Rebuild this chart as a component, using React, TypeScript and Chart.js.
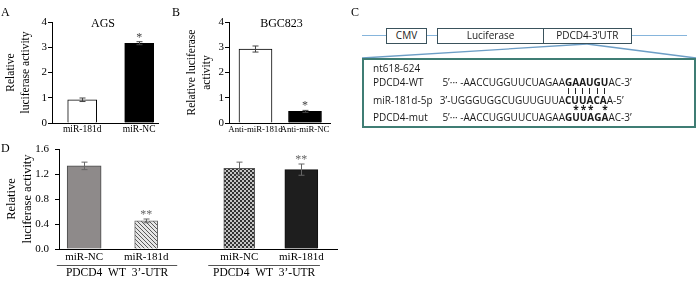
import React, { useEffect, useRef } from 'react';
import { Chart, registerables } from 'chart.js';

Chart.register(...registerables);

const SERIF = '"Liberation Serif", "Times New Roman", serif';
const SANS = '"Open Sans", "Noto Sans", sans-serif';

// ---------- Panel A (AGS) ----------
const agsCategories = ['miR-181d', 'miR-NC'];
const agsValues = [0.92, 3.16];
const agsErrors = [0.07, 0.06];
const agsMarks = ['', '*'];

// ---------- Panel B (BGC823) ----------
const bgcCategories = ['Anti-miR-181d', 'Anti-miR-NC'];
const bgcValues = [2.93, 0.46];
const bgcErrors = [0.12, 0.04];
const bgcMarks = ['', '*'];

const abTicks = [0, 1, 2, 3, 4];

// ---------- Panel D ----------
const dCategories = ['miR-NC', 'miR-181d', 'miR-NC', 'miR-181d'];
const dSlots = [0, 2, 5, 7];
const dValues = [1.33, 0.45, 1.29, 1.27];
const dErrors = [0.06, 0.03, 0.1, 0.09];
const dMarks = ['', '**', '', '**'];
const dGroupLabels = ['PDCD4  WT  3’-UTR', 'PDCD4  WT  3’-UTR'];
const dGroupSpans = [[-0.88, 3.0], [4.0, 7.6]];
const dTicks = [0, 0.4, 0.8, 1.2, 1.6];

// ---------- Panel C (construct) ----------
const constructBoxes = ['CMV', 'Luciferase', 'PDCD4-3’UTR'];
const siteLabel = 'nt618-624';
const seqNames = ['PDCD4-WT', 'miR-181d-5p', 'PDCD4-mut'];
const seqPre = ['5’··· -AACCUGGUUCUAGAA', '3’-UGGGUGGCUGUUGUUA', '5’··· -AACCUGGUUCUAGAA'];
const seqCore = ['GAAUGU', 'CUUACA', 'GUUAGA'];
const seqPost = ['AC-3’', 'A-5’', 'AC-3’'];
const mutatedPositions = [1, 2, 3, 5];

const errorBarPlugin = {
  id: 'errorBars',
  afterDatasetsDraw(chart: any) {
    const { ctx } = chart;
    const ys = chart.scales.y;
    chart.data.datasets.forEach((ds: any, di: number) => {
      const meta = chart.getDatasetMeta(di);
      meta.data.forEach((bar: any, i: number) => {
        const pt = ds.data[i];
        if (!pt || !ds.errors) return;
        const err = ds.errors[i];
        const yTop = ys.getPixelForValue(pt.y + err);
        const yBot = ys.getPixelForValue(pt.y - err);
        const x = Math.round(bar.x) + 0.5;
        const cap = ds.capHalf ?? 3;
        ctx.save();
        ctx.strokeStyle = ds.errorColor || '#444';
        ctx.lineWidth = 1;
        ctx.beginPath();
        ctx.moveTo(x, yTop);
        ctx.lineTo(x, yBot);
        ctx.moveTo(x - cap, yTop);
        ctx.lineTo(x + cap, yTop);
        ctx.moveTo(x - cap, yBot);
        ctx.lineTo(x + cap, yBot);
        ctx.stroke();
        const mark = ds.marks ? ds.marks[i] : '';
        if (mark) {
          ctx.fillStyle = ds.errorColor || '#444';
          ctx.font = `12px ${SERIF}`;
          ctx.textAlign = 'center';
          ctx.textBaseline = 'alphabetic';
          ctx.fillText(mark, bar.x, yTop - 1);
        }
        ctx.restore();
      });
    });
  },
};

const panelTextPlugin = {
  id: 'panelText',
  afterDraw(chart: any, _args: any, opts: any) {
    const { ctx, chartArea } = chart;
    ctx.save();
    ctx.fillStyle = '#000';
    if (opts && opts.title) {
      ctx.font = `12px ${SERIF}`;
      ctx.textAlign = 'center';
      ctx.textBaseline = 'middle';
      ctx.fillText(opts.title, (chartArea.left + chartArea.right) / 2 + (opts.titleDx || 0), chartArea.top + 2);
    }
    if (opts && opts.groups) {
      const xs = chart.scales.x;
      opts.groups.forEach((g: any) => {
        const x1 = xs.getPixelForValue(g.span[0]);
        const x2 = xs.getPixelForValue(g.span[1]);
        const yLine = chartArea.bottom + 16.5;
        ctx.strokeStyle = '#555';
        ctx.lineWidth = 1;
        ctx.beginPath();
        ctx.moveTo(x1, yLine);
        ctx.lineTo(x2, yLine);
        ctx.stroke();
        ctx.font = `11.5px ${SERIF}`;
        ctx.textAlign = 'center';
        ctx.textBaseline = 'middle';
        ctx.fillText(g.label, (x1 + x2) / 2, chartArea.bottom + 24);
      });
    }
    ctx.restore();
  },
};

function xAxis(slots: number[], labels: string[], min: number, max: number, size: number, height: number, pad: number) {
  return {
    type: 'linear',
    min,
    max,
    offset: false,
    grid: { display: false, drawTicks: false, tickLength: 0 },
    border: { display: true, color: '#000', width: 1 },
    afterBuildTicks: (axis: any) => {
      axis.ticks = slots.map((v) => ({ value: v }));
    },
    ticks: {
      autoSkip: false,
      maxRotation: 0,
      minRotation: 0,
      padding: pad,
      color: '#000',
      font: { family: SERIF, size },
      callback: (value: number) => {
        const i = slots.indexOf(value);
        return i >= 0 ? labels[i] : '';
      },
    },
    afterFit: (s: any) => {
      s.height = height;
      s.paddingLeft = 0;
      s.paddingRight = 0;
    },
  };
}

function yAxis(ticks: number[], width: number, title: string[], titlePad: number, labelPad: number, fmt: (v: number) => string, titleSize: number) {
  return {
    min: ticks[0],
    max: ticks[ticks.length - 1],
    afterBuildTicks: (axis: any) => {
      axis.ticks = ticks.map((v) => ({ value: v }));
    },
    grid: { display: true, drawOnChartArea: false, drawTicks: true, tickLength: 4, color: '#000', lineWidth: 1 },
    border: { display: true, color: '#000', width: 1 },
    ticks: { padding: labelPad, color: '#000', font: { family: SERIF, size: 11 }, callback: (v: number) => fmt(v) },
    title: {
      display: true,
      text: title,
      color: '#000',
      font: { family: SERIF, size: titleSize, lineHeight: 1.25 },
      padding: { top: titlePad, bottom: 0 },
    },
    afterFit: (s: any) => {
      s.width = width;
      s.paddingTop = 0;
      s.paddingBottom = 0;
    },
  };
}

function makeHatch(): CanvasPattern | string {
  const c = document.createElement('canvas');
  c.width = 4;
  c.height = 4;
  const g = c.getContext('2d');
  if (!g) return '#bbb';
  g.fillStyle = '#e6e6e6';
  g.fillRect(0, 0, 4, 4);
  g.strokeStyle = '#5a5a5a';
  g.lineWidth = 1;
  g.beginPath();
  g.moveTo(-1, -1);
  g.lineTo(5, 5);
  g.moveTo(-1, 3);
  g.lineTo(1, 5);
  g.moveTo(3, -1);
  g.lineTo(5, 1);
  g.stroke();
  return g.createPattern(c, 'repeat') || '#bbb';
}

function makeChecker(): CanvasPattern | string {
  const c = document.createElement('canvas');
  c.width = 4;
  c.height = 4;
  const g = c.getContext('2d');
  if (!g) return '#777';
  g.fillStyle = '#c4c4c4';
  g.fillRect(0, 0, 4, 4);
  g.fillStyle = '#333';
  g.fillRect(0, 0, 2, 2);
  g.fillRect(2, 2, 2, 2);
  return g.createPattern(c, 'repeat') || '#777';
}

function configA() {
  return {
    type: 'bar',
    data: {
      datasets: [
        {
          data: agsCategories.map((_, i) => ({ x: i, y: agsValues[i] })),
          backgroundColor: ['#ffffff', '#000000'],
          borderColor: '#000',
          borderWidth: 1,
          barThickness: 29,
          errors: agsErrors,
          marks: agsMarks,
          errorColor: '#444',
        },
      ],
    },
    options: {
      responsive: false,
      animation: false,
      layout: { padding: { left: 0, top: 22, right: 12, bottom: 0 } },
      plugins: { legend: { display: false }, tooltip: { enabled: false }, panelText: { title: 'AGS', titleDx: -2 } },
      scales: {
        x: xAxis([0, 1], agsCategories, -0.53, 1.33, 9.5, 17, 1),
        y: yAxis(abTicks, 52, ['Relative', 'luciferase activity'], 4, 1, (v) => String(v), 11.5),
      },
    },
    plugins: [errorBarPlugin, panelTextPlugin],
  };
}

function configB() {
  return {
    type: 'bar',
    data: {
      datasets: [
        {
          data: bgcCategories.map((_, i) => ({ x: i, y: bgcValues[i] })),
          backgroundColor: ['#ffffff', '#000000'],
          borderColor: '#000',
          borderWidth: 1,
          barThickness: 33,
          errors: bgcErrors,
          marks: bgcMarks,
          errorColor: '#444',
        },
      ],
    },
    options: {
      responsive: false,
      animation: false,
      layout: { padding: { left: 0, top: 22, right: 10, bottom: 0 } },
      plugins: { legend: { display: false }, tooltip: { enabled: false }, panelText: { title: 'BGC823', titleDx: 2 } },
      scales: {
        x: xAxis([0, 1], bgcCategories, -0.535, 1.505, 8.8, 17, 1),
        y: yAxis(abTicks, 59, ['Relative luciferase', 'activity'], 15, 1, (v) => String(v), 11.5),
      },
    },
    plugins: [errorBarPlugin, panelTextPlugin],
  };
}

function configD() {
  const fills = ['#8e8a8a', makeHatch(), makeChecker(), '#1e1e1e'];
  const borders = ['#4a4a4a', '#6a6a6a', '#555', '#111'];
  const widths = [34, 23, 31, 33];
  return {
    type: 'bar',
    data: {
      datasets: dCategories.map((_, i) => ({
        data: [{ x: dSlots[i], y: dValues[i] }],
        backgroundColor: fills[i],
        borderColor: borders[i],
        borderWidth: 1,
        barThickness: widths[i],
        grouped: false,
        errors: [dErrors[i]],
        marks: [dMarks[i]],
        errorColor: '#666',
      })),
    },
    options: {
      responsive: false,
      animation: false,
      layout: { padding: { left: 0, top: 9, right: 13, bottom: 0 } },
      plugins: {
        legend: { display: false },
        tooltip: { enabled: false },
        panelText: { groups: dGroupLabels.map((label, i) => ({ label, span: dGroupSpans[i] })) },
      },
      scales: {
        x: xAxis(dSlots, dCategories, -0.81, 8.15, 11, 33, 2),
        y: yAxis(dTicks, 59, ['Relative', 'luciferase activity'], 4, 6, (v) => v.toFixed(1), 12.5),
      },
    },
    plugins: [errorBarPlugin, panelTextPlugin],
  };
}

function ChartBox({ left, top, width, height, make }: any) {
  const ref = useRef<HTMLCanvasElement>(null);
  useEffect(() => {
    if (!ref.current) return;
    const chart = new Chart(ref.current, make() as any);
    return () => chart.destroy();
  }, []);
  return (
    <canvas
      ref={ref}
      width={width}
      height={height}
      style={{ position: 'absolute', left, top, width, height, display: 'block' }}
    />
  );
}

const letterStyle = (left: number, top: number): React.CSSProperties => ({
  position: 'absolute',
  left,
  top,
  fontFamily: SERIF,
  fontSize: 12,
  lineHeight: '14px',
  color: '#000',
});

const C_LINE = '#86b5dc';
const C_BOX = '#3a525c';
const C_FRAME = '#3f7d74';
const CORE_X = 565;
const SEQ_Y = [82, 100, 117];

function seqText(top: number): React.CSSProperties {
  return {
    position: 'absolute',
    top: top - 7,
    lineHeight: '14px',
    fontSize: 10,
    fontFamily: SANS,
    color: '#1a1a1a',
    whiteSpace: 'pre',
  };
}

function MarkRow({ core, top, marks }: { core: string; top: number; marks: (i: number) => React.ReactNode }) {
  return (
    <div style={{ ...seqText(top), left: CORE_X, fontWeight: 700 }}>
      {core.split('').map((ch, i) => (
        <span key={i} style={{ position: 'relative', display: 'inline-block' }}>
          <span style={{ visibility: 'hidden' }}>{ch}</span>
          <span style={{ position: 'absolute', left: 0, right: 0, top: 0, textAlign: 'center' }}>{marks(i)}</span>
        </span>
      ))}
    </div>
  );
}

function PanelC() {
  const boxStyle = (left: number, width: number): React.CSSProperties => ({
    position: 'absolute',
    left,
    top: 28,
    width,
    height: 16,
    boxSizing: 'border-box',
    border: `1.5px solid ${C_BOX}`,
    background: '#fff',
    fontFamily: SANS,
    fontSize: 10,
    lineHeight: '13px',
    textAlign: 'center',
    color: '#1a1a1a',
  });
  const boxes = [
    [386, 41],
    [437, 107],
    [542.5, 89.5],
  ];
  return (
    <>
      <svg width={700} height={282} style={{ position: 'absolute', left: 0, top: 0 }}>
        <line x1={362} y1={35.5} x2={687} y2={35.5} stroke={C_LINE} strokeWidth={1.2} />
        <line x1={362} y1={58} x2={587} y2={44} stroke="#6d9ec6" strokeWidth={1.3} />
        <line x1={587} y1={44} x2={696} y2={58} stroke="#6d9ec6" strokeWidth={1.3} />
      </svg>
      {constructBoxes.map((t, i) => (
        <div key={t} style={boxStyle(boxes[i][0], boxes[i][1])}>
          {t}
        </div>
      ))}
      <div
        style={{
          position: 'absolute',
          left: 362,
          top: 58,
          width: 334,
          height: 70,
          boxSizing: 'border-box',
          border: `2px solid ${C_FRAME}`,
        }}
      />
      <div style={{ ...seqText(68), left: 373 }}>{siteLabel}</div>
      {seqNames.map((n, i) => (
        <React.Fragment key={n + i}>
          <div style={{ ...seqText(SEQ_Y[i]), left: 373 }}>{n}</div>
          <div style={{ ...seqText(SEQ_Y[i]), right: 700 - CORE_X, textAlign: 'right' }}>{seqPre[i]}</div>
          <div style={{ ...seqText(SEQ_Y[i]), left: CORE_X }}>
            <b style={{ fontWeight: 700 }}>{seqCore[i]}</b>
            {seqPost[i]}
          </div>
        </React.Fragment>
      ))}
      <MarkRow
        core={seqCore[0]}
        top={90}
        marks={() => <span style={{ display: 'inline-block', width: 1, height: 6, background: '#222', marginTop: 4 }} />}
      />
      <MarkRow core={seqCore[2]} top={109} marks={(i) => (mutatedPositions.includes(i) ? '*' : '')} />
    </>
  );
}

export default function App() {
  return (
    <div style={{ position: 'fixed', left: 0, top: 0, width: 700, height: 282, background: '#fff', overflow: 'hidden' }}>
      <ChartBox left={0} top={0} width={170} height={140} make={configA} />
      <ChartBox left={170} top={0} width={170} height={140} make={configB} />
      <ChartBox left={0} top={140} width={350} height={142} make={configD} />
      <div style={letterStyle(1, 5)}>A</div>
      <div style={letterStyle(172, 5)}>B</div>
      <div style={letterStyle(351, 5)}>C</div>
      <div style={letterStyle(1, 141)}>D</div>
      <PanelC />
    </div>
  );
}
